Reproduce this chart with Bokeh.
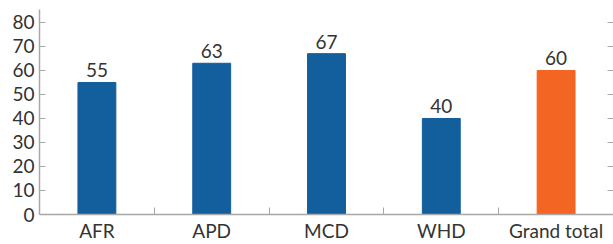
from bokeh.plotting import figure
from bokeh.models import ColumnDataSource, Range1d, FixedTicker, LinearAxis, LabelSet
from bokeh.core.properties import value
from bokeh.embed import file_html
from bokeh.resources import INLINE

categories = ["AFR", "APD", "MCD", "WHD", "Grand total"]
values = [55, 63, 67, 40, 60]
colors = ["#135e9c", "#135e9c", "#135e9c", "#135e9c", "#f26522"]
y_ticks = [0, 10, 20, 30, 40, 50, 60, 70, 80]

FONT = "Lato"
FS = "19px"
TXT = "#333333"
AX = "#a8a8a8"

xs = [i + 0.5 for i in range(len(categories))]
src = ColumnDataSource(dict(x=xs, top=values, color=colors,
                            label=[str(v) for v in values]))

p = figure(width=613, height=244, output_backend="svg", toolbar_location=None,
           x_range=Range1d(0, len(categories)), y_range=Range1d(0, 85.4),
           min_border_left=39, min_border_right=0, min_border_top=9, min_border_bottom=30)
p.outline_line_color = None
p.xgrid.grid_line_color = None
p.ygrid.grid_line_color = None

p.vbar(x="x", top="top", width=0.33, color="color", source=src)

labels = LabelSet(x="x", y="top", text="label", source=src, text_align="center",
                  text_baseline="bottom", y_offset=5, text_font=value(FONT),
                  text_font_size=value(FS), text_color=TXT)
p.add_layout(labels)

xa = p.xaxis[0]
xa.ticker = FixedTicker(ticks=xs, minor_ticks=list(range(1, len(categories))))
xa.major_label_overrides = {x: c for x, c in zip(xs, categories)}
xa.major_tick_in = 0
xa.major_tick_out = 0
xa.minor_tick_in = 7
xa.minor_tick_out = 0
xa.minor_tick_line_color = AX
xa.axis_line_color = AX
xa.axis_line_width = 1.5
xa.major_label_text_font = FONT
xa.major_label_text_font_size = FS
xa.major_label_text_color = TXT
xa.major_label_standoff = 4

ya = p.yaxis[0]
ya.ticker = FixedTicker(ticks=y_ticks)
ya.major_tick_in = 6
ya.major_tick_out = 0
ya.minor_tick_line_color = None
ya.major_tick_line_color = AX
ya.axis_line_color = AX
ya.axis_line_width = 1.5
ya.major_label_text_font = FONT
ya.major_label_text_font_size = FS
ya.major_label_text_color = TXT
ya.major_label_standoff = 5

ra = LinearAxis(ticker=FixedTicker(ticks=y_ticks))
ra.major_tick_in = 6
ra.major_tick_out = 0
ra.minor_tick_line_color = None
ra.major_tick_line_color = AX
ra.axis_line_color = None
ra.major_label_standoff = 0
ra.major_label_text_color = None
ra.major_label_text_font_size = "0px"
p.add_layout(ra, "right")

open("out.html", "w").write(file_html(p, INLINE))
